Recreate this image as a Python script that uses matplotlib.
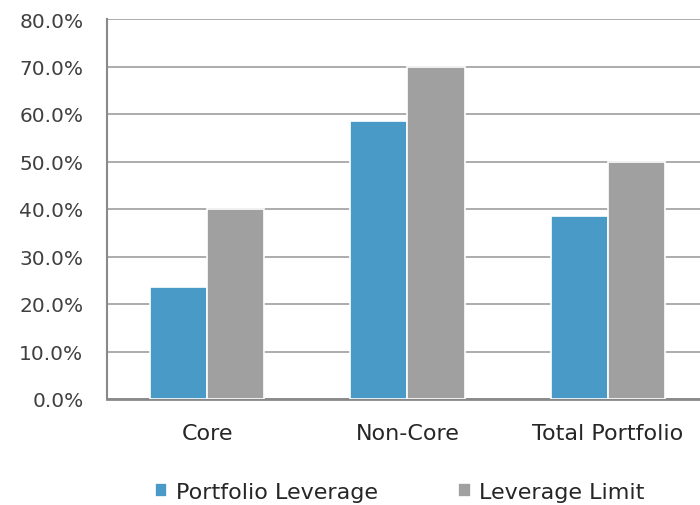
import numpy as np
import matplotlib
matplotlib.use("Agg")
import matplotlib.pyplot as plt
from matplotlib.ticker import PercentFormatter

# leverage by portfolio segment (%)
categories = ["Core", "Non-Core", "Total Portfolio"]
portfolio_leverage = [23.5, 58.5, 38.6]
leverage_limit = [40.0, 70.0, 50.0]

blue = "#4A9AC8"
grey = "#A0A0A0"

plt.rcParams['font.family'] = ['DejaVu Sans']

fig = plt.figure(figsize=(7.0, 5.06), dpi=100)
ax = fig.add_axes([107 / 700, 1 - 400 / 506, 601 / 700, 380 / 506])

x = np.arange(len(categories))
w = 0.285
b1 = ax.bar(x - w / 2, portfolio_leverage, w, color=blue, edgecolor="white", linewidth=1.2,
            label="Portfolio Leverage", zorder=3)
b2 = ax.bar(x + w / 2, leverage_limit, w, color=grey, edgecolor="white", linewidth=1.2,
            label="Leverage Limit", zorder=3)

ax.set_xlim(-0.5, 2.5)
ax.set_ylim(0, 80)
ax.set_yticks(np.arange(0, 81, 10))
ax.yaxis.set_major_formatter(PercentFormatter(decimals=1))
ax.set_xticks(x)
ax.set_xticklabels(categories)

ax.grid(axis="y", color="#A6A6A6", linewidth=1.3, zorder=0)
ax.set_axisbelow(True)
for s in ["top", "right"]:
    ax.spines[s].set_visible(False)
ax.spines["left"].set_color("#898989")
ax.spines["left"].set_linewidth(1.5)
ax.spines["bottom"].set_color("#898989")
ax.spines["bottom"].set_linewidth(2)

ax.tick_params(axis="y", length=0, pad=17, labelsize=14.5, labelcolor="#404040")
ax.tick_params(axis="x", length=0, pad=17, labelsize=16, labelcolor="#262626")

leg = fig.legend(handles=[b1, b2], loc="center", bbox_to_anchor=(400 / 700, 1 - 493 / 506),
                 ncol=2, frameon=False, fontsize=16, handlelength=0.55, handleheight=0.55,
                 handletextpad=0.4, columnspacing=3.6)
for t in leg.get_texts():
    t.set_color("#262626")

fig.savefig("out.png", dpi=100)
